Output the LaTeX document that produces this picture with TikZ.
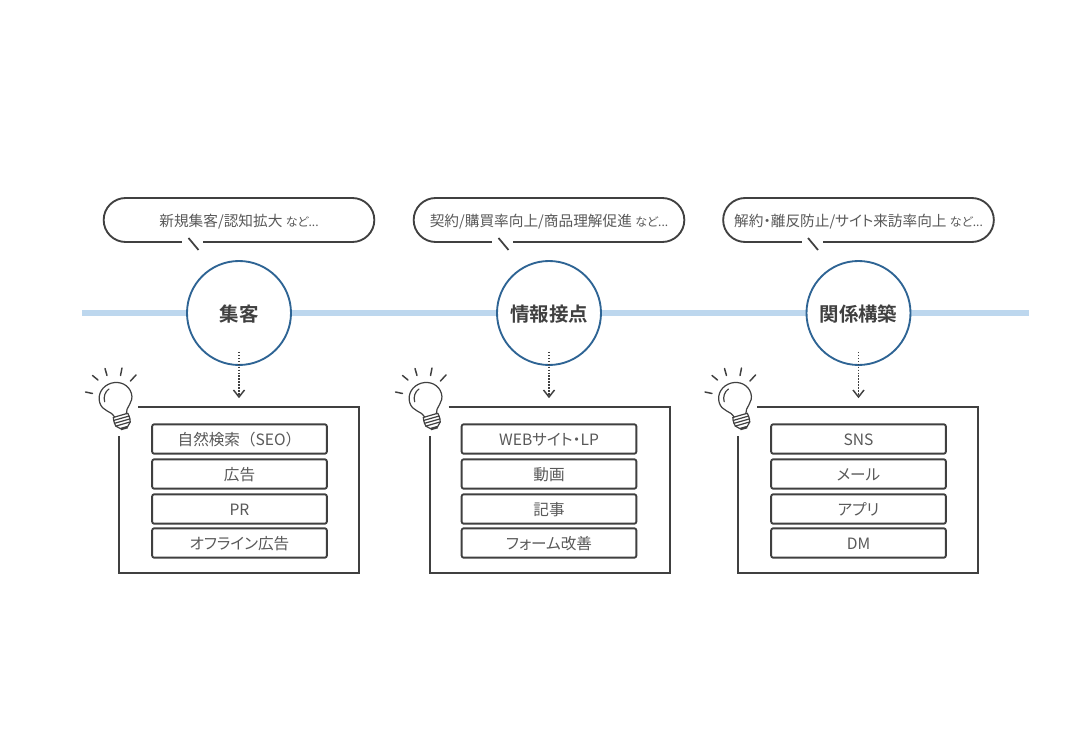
\documentclass[tikz,border=0pt]{standalone}
\usepackage{fontspec}
\setmainfont{Noto Sans CJK JP}
\newfontfamily\jpbold{Noto Sans CJK JP Bold}
\newfontfamily\jpp[RawFeature={+palt}]{Noto Sans CJK JP}
\definecolor{ln}{HTML}{404040}
\definecolor{tx}{HTML}{595959}
\definecolor{blu}{HTML}{BDD7EE}
\definecolor{circ}{HTML}{2E6494}
\newcommand{\nado}{\fontsize{9}{11}\selectfont\jpp など...}
\tikzset{
 x=0.75pt,y=-0.75pt,
 bubble/.style={draw=ln,line width=1.4pt,fill=white,rounded corners=16.5pt,minimum width=203pt,minimum height=33pt,inner sep=0pt,text height=10.93pt,text depth=1.07pt,text=tx,font=\fontsize{11}{13}\selectfont},
 item/.style={draw=ln,line width=1.4pt,fill=white,rounded corners=1.5pt,minimum width=131pt,minimum height=22pt,inner sep=0pt,text height=11.2pt,text depth=0.8pt,text=tx,font=\fontsize{11.7}{14}\selectfont},
 stage/.style={circle,draw=circ,line width=1.4pt,fill=white,minimum size=78pt,inner sep=0pt,text height=13pt,text depth=0.4pt,text=ln,font=\jpbold\fontsize{14.6}{17}\selectfont},
 frame/.style={draw=ln,line width=1.5pt},
 bulbline/.style={draw=ln,line width=0.9pt,line cap=round,line join=round},
 rayline/.style={draw=ln,line width=1.1pt,line cap=round},
 tailline/.style={draw=ln,line width=1.3pt},
 dotarrow/.style={draw=ln,line width=1.2pt,dash pattern=on 1.1pt off 1.1pt},
 chevron/.style={draw=ln,line width=1.1pt,line join=miter},
}
% #1 shift, #2 id, #3 bubble text, #4 stage, #5 frame offset, #6 item x, #7 items, #8 circle x
\newcommand{\stagegroup}[8]{%
\begin{scope}[xshift=#1*0.75pt]
 \node[bubble] (b#2) at (239,220) {#3};
 \draw[white,line width=3pt] (182,242) -- (203,242);
 \coordinate (t#2a) at (188.5,238);
 \coordinate (t#2b) at (198.5,250);
 \draw[tailline] (t#2a) -- (t#2b);
 \node[stage] (c#2) at (#8,313) {#4};
 \coordinate (d#2a) at (#8,352);
 \coordinate (d#2b) at (#8,397);
 \draw[dotarrow] (d#2a) -- (d#2b);
 \draw[chevron] (#8-5.5,390) -- (d#2b) -- (#8+5.5,390);
 \coordinate (f#2a) at (138+#5,407);
 \coordinate (f#2b) at (359+#5,573);
 \coordinate (f#2c) at (119+#5,573);
 \coordinate (f#2d) at (119+#5,436);
 \draw[frame] (f#2a) -- (f#2a -| f#2b) -- (f#2b) -- (f#2c) -- (f#2d);
 \begin{scope}[shift={(116,399.5)},rotate=16]
  \draw[bulbline] (-6,16.5) .. controls (-7,10) and (-16.5,8) .. (-16.5,-1.5) .. controls (-16.5,-10.5) and (-9,-17) .. (0,-17) .. controls (9,-17) and (16.5,-10.5) .. (16.5,-1.5) .. controls (16.5,8) and (7,10) .. (6,16.5);
  \draw[bulbline] (-11.5,-1) .. controls (-11.5,-6) and (-8.5,-10.5) .. (-4,-12);
  \draw[bulbline] (-7.5,16.5) -- (7.5,16.5) (-8,19.5) -- (8,19.5) (-8,22.5) -- (8,22.5) (-7.5,25.5) -- (7.5,25.5);
  \draw[bulbline] (-7.5,16.5) -- (-8,19.5) -- (-8,22.5) -- (-7.5,25.5) -- (-3.5,29.5) -- (3.5,29.5) -- (7.5,25.5) -- (8,22.5) -- (8,19.5) -- (7.5,16.5);
  \fill[ln] (-3.5,28.5) rectangle (3.5,31);
 \end{scope}
 \draw[rayline] (85.5,392) -- (92.5,393.5) (92.5,375.5) -- (98,380) (105,368.5) -- (107,375.5) (122,368) -- (120.5,375.5) (136,375) -- (130.5,381);
 #7
\end{scope}}
\begin{document}
\begin{tikzpicture}
\useasboundingbox (0,0) rectangle (1090,748);
\fill[white] (0,0) rectangle (1090,748);
\coordinate (railL) at (82,313);
\coordinate (railR) at (1029,313);
\draw[blu,line width=5.2pt] (railL) -- (railR);
\stagegroup{0}{A}{新規集客/認知拡大 {\nado}}{集客}{0}{239.5}{%
 \node[item] (iAa) at (239.5,439) {自然検索（SEO）};
 \node[item] (iAb) at (239.5,474) {広告};
 \node[item] (iAc) at (239.5,509) {PR};
 \node[item] (iAd) at (239.5,543) {\jpp オフライン広告};}{239}
\stagegroup{310}{B}{契約/購買率向上/商品理解促進 {\nado}}{情報接点}{0.5}{239}{%
 \node[item] (iBa) at (239,439) {\jpp WEBサイト・LP};
 \node[item] (iBb) at (239,474) {動画};
 \node[item] (iBc) at (239,509) {記事};
 \node[item] (iBd) at (239,543) {\jpp フォーム改善};}{239}
\stagegroup{619.5}{C}{\jpp 解約・離反防止/サイト来訪率向上 {\nado}}{関係構築}{-0.5}{239}{%
 \node[item] (iCa) at (239,439) {SNS};
 \node[item] (iCb) at (239,474) {\jpp メール};
 \node[item] (iCc) at (239,509) {\jpp アプリ};
 \node[item] (iCd) at (239,543) {DM};}{239}
\end{tikzpicture}
\end{document}
